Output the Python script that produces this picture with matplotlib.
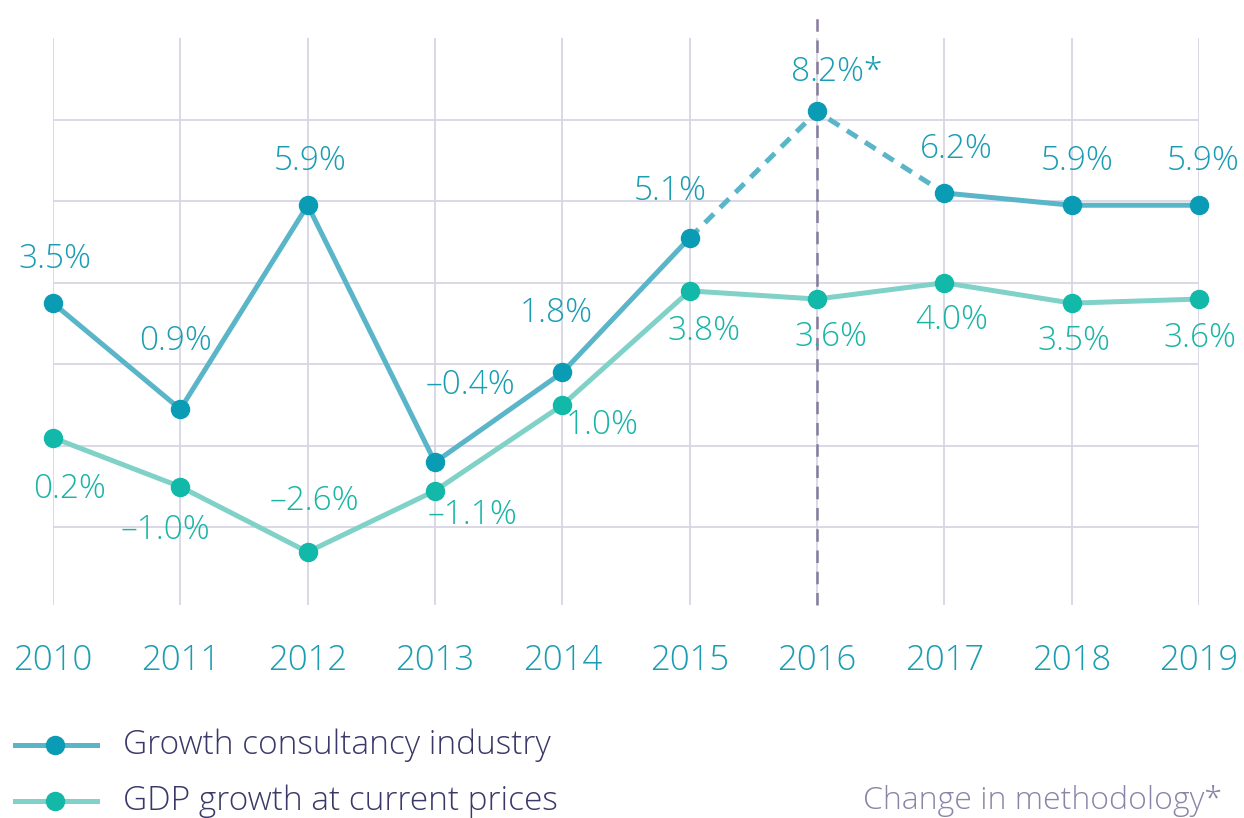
import matplotlib
matplotlib.use("Agg")
import matplotlib.pyplot as plt
from matplotlib.lines import Line2D

plt.rcParams['font.family'] = ['Open Sans', 'DejaVu Sans']

years = [2010, 2011, 2012, 2013, 2014, 2015, 2016, 2017, 2018, 2019]
consultancy = [3.5, 0.9, 5.9, -0.4, 1.8, 5.1, 8.2, 6.2, 5.9, 5.9]
gdp = [0.2, -1.0, -2.6, -1.1, 1.0, 3.8, 3.6, 4.0, 3.5, 3.6]
consultancy_labels = ['3.5%', '0.9%', '5.9%', '–0.4%', '1.8%', '5.1%', '8.2%*', '6.2%', '5.9%', '5.9%']
gdp_labels = ['0.2%', '–1.0%', '–2.6%', '–1.1%', '1.0%', '3.8%', '3.6%', '4.0%', '3.5%', '3.6%']
method_change_year = 2016

# label offsets in pixels (dx, dy) relative to each point
cons_off = [(2, 44), (-5, 68), (2, 44), (35, 77), (-6, 59), (-19, 47), (20, 39), (12, 44), (5, 44), (4, 44)]
gdp_off = [(17, -51), (-15, -44), (7, 51), (38, -24), (40, -20), (14, -40), (14, -38), (7, -38), (2, -38), (1, -39)]

c_line = '#5ab5c8'
c_mark = '#0a9bb5'
g_line = '#80d1c7'
g_mark = '#12b8a8'
c_text = '#1a9db3'
g_text = '#18b5a6'
grid_c = '#d8d5e3'

fig = plt.figure(figsize=(12.44, 8.18), dpi=100)
ax = fig.add_axes([53 / 1244, 1 - 605 / 818, (1199 - 53) / 1244, (605 - 38) / 818])
ax.set_xlim(2010, 2019)
ax.set_ylim(-3.9, 10)

for s in ax.spines.values():
    s.set_visible(False)
ax.set_yticks([-2, 0, 2, 4, 6, 8])
ax.set_yticklabels([])
ax.set_xticks(years)
ax.set_xticklabels([str(y) for y in years], fontsize=25, color=c_text, fontweight='light')
ax.tick_params(length=0, axis='x', pad=28)
ax.tick_params(length=0, axis='y')
ax.grid(True, color=grid_c, linewidth=1.3)
ax.set_axisbelow(True)

# methodology change marker
ax.plot([method_change_year, method_change_year], [-3.9, 10.55], color='#857c9c',
        linestyle=(0, (5, 3.5)), linewidth=1.8, clip_on=False, zorder=1)

i6 = years.index(method_change_year)
# solid parts of consultancy line
ax.plot(years[:i6], consultancy[:i6], color=c_line, linewidth=3.6, solid_capstyle='round', zorder=2)
ax.plot(years[i6 + 1:], consultancy[i6 + 1:], color=c_line, linewidth=3.6, solid_capstyle='round', zorder=2)
ax.plot(years[i6 - 1:i6 + 2], consultancy[i6 - 1:i6 + 2], color=c_line, linewidth=3.6,
        linestyle=(0, (2.5, 1.8)), zorder=2)
ax.plot(years, consultancy, linestyle='none', marker='o', markersize=13, color=c_mark,
        clip_on=False, zorder=4)

ax.plot(years, gdp, color=g_line, linewidth=3.6, zorder=2)
ax.plot(years, gdp, linestyle='none', marker='o', markersize=13, color=g_mark,
        clip_on=False, zorder=4)

for x, y, t, o in zip(years, consultancy, consultancy_labels, cons_off):
    ax.annotate(t, (x, y), xytext=o, textcoords='offset pixels', ha='center', va='center',
                fontsize=24, color=c_text, fontweight='light', zorder=5)
for x, y, t, o in zip(years, gdp, gdp_labels, gdp_off):
    ax.annotate(t, (x, y), xytext=o, textcoords='offset pixels', ha='center', va='center',
                fontsize=24, color=g_text, fontweight='light', zorder=5)

# legend drawn by hand
def legend_row(ypx, lc, mc, label):
    yf = 1 - ypx / 818
    fig.add_artist(Line2D([15 / 1244, 97 / 1244], [yf, yf], color=lc, linewidth=3.6,
                          transform=fig.transFigure))
    fig.add_artist(Line2D([55 / 1244], [yf], marker='o', markersize=13, color=mc,
                          transform=fig.transFigure))
    fig.text(123 / 1244, yf, label, fontsize=24, color='#3a3868', va='center', ha='left',
             fontweight='light')

legend_row(745, c_line, c_mark, 'Growth consultancy industry')
legend_row(801, g_line, g_mark, 'GDP growth at current prices')
fig.text(1222 / 1244, 1 - 801 / 818, 'Change in methodology*', fontsize=23, color='#8a84a8',
         ha='right', va='center', fontweight='light')

fig.savefig('out.png', dpi=100)
